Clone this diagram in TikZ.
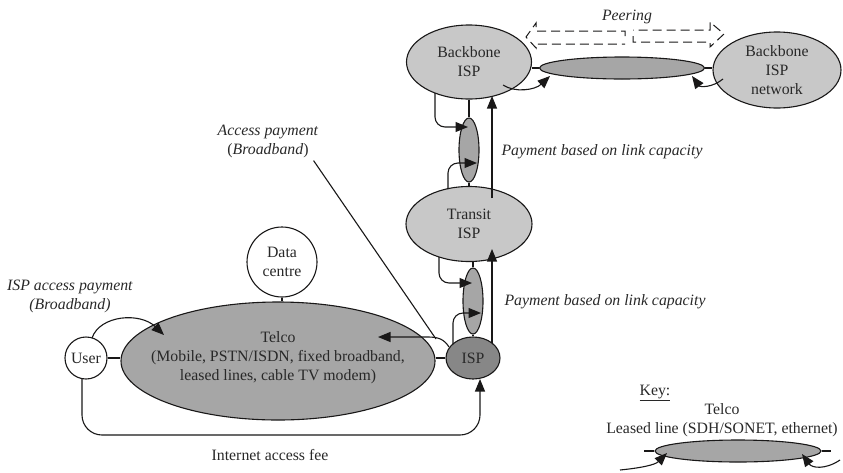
\documentclass[tikz,border=0pt]{standalone}
\usepackage{fontspec}
\setmainfont{Liberation Serif}
\usetikzlibrary{shapes.geometric,arrows.meta,calc}
\definecolor{lightfill}{RGB}{200,200,200}
\definecolor{midfill}{RGB}{166,166,166}
\definecolor{darkfill}{RGB}{135,135,135}
\definecolor{ink}{RGB}{25,24,24}
\definecolor{txt}{RGB}{40,40,40}

\begin{document}
\begin{tikzpicture}[x=1pt,y=-1pt,
  font=\fontsize{15.8}{19}\selectfont,
  every node/.style={text=txt},
  blob/.style={ellipse, draw=ink, line width=1.1pt, inner sep=0pt},
  ring/.style={circle, draw=ink, line width=1.1pt, fill=white, inner sep=0pt},
  lbl/.style={align=center, inner sep=0pt},
  conn/.style={draw=ink, line width=1.1pt},
  arr/.style={conn, -{Triangle[length=12.5pt,width=10pt]}},
  peer/.style={draw=ink, line width=1pt, dash pattern=on 9pt off 5pt}
]
\useasboundingbox (0,0) rectangle (843,472);

% ---------- network elements ----------
\node[blob, fill=lightfill, minimum width=125pt, minimum height=74pt] (bb) at (469,62) {};
\node[lbl] (bbT) at (bb.center) {Backbone\\ISP};
\node[blob, fill=lightfill, minimum width=128pt, minimum height=76pt] (net) at (777,70) {};
\node[lbl] (netT) at (net.center) {Backbone\\ISP\\network};
\node[blob, fill=midfill, minimum width=165pt, minimum height=22pt] (link1) at (622,68) {};
\node[blob, fill=midfill, minimum width=20pt, minimum height=64pt] (upl) at (469,150) {};
\node[blob, fill=lightfill, minimum width=126pt, minimum height=75pt] (transit) at (469,224) {};
\node[lbl] (transitT) at (transit.center) {Transit\\ISP};
\node[blob, fill=midfill, minimum width=20pt, minimum height=66pt] (lowl) at (473,301) {};
\node[blob, fill=darkfill, minimum width=54pt, minimum height=42pt] (isp) at (473,358) {};
\node[lbl] (ispT) at (isp.center) {ISP};
\node[blob, fill=midfill, minimum width=314pt, minimum height=118pt] (telco) at (278,361) {};
\node[lbl] (telcoT) at ($(telco.center)+(0,-3)$) {Telco\\(Mobile, PSTN/ISDN, fixed broadband,\\leased lines, cable TV modem)};
\node[ring, minimum size=70pt] (dc) at (282,262) {};
\node[lbl] (dcT) at (dc.center) {Data\\centre};
\node[ring, minimum size=42pt] (user) at (86,358) {};
\node[lbl] (userT) at (user.center) {User};

% ---------- short attachment lines ----------
\draw[conn] (link1.west) -- (bb.east |- link1.west);
\draw[conn] (link1.east) -- (net.west |- link1.east);
\draw[conn] (bb.south) -- (upl.north);
\draw[conn] (upl.south) -- (transit.north);
\draw[conn] (lowl.north) -- (lowl.north |- transit.south);
\draw[conn] (lowl.south) -- (isp.north);
\draw[conn] (dc.south) -- (dc.south |- telco.north);
\draw[conn] (user.east) -- (telco.west |- user.east);
\draw[conn] (isp.west) -- (telco.east |- isp.west);

% ---------- peering (dashed outline double arrow) ----------
\draw[peer] (625,36) -- (625,31) -- (536,31) -- (536,23) -- (526,37) -- (536,48) -- (536,44) -- (625,44);
\draw[peer] (633,36) -- (633,42) -- (710,42) -- (710,47) -- (724,34) -- (710,22) -- (710,30) -- (633,30);
\node (peerT) at (627,17) {\textit{Peering}};

% ---------- connections into the backbone link ----------
\draw[arr] ($(bb.center)+(34,23)$) .. controls ($(bb.center)+(46,31)$) and ($(link1.center)+(-87,22)$) .. ($(link1.center)+(-72,8)$);
\draw[arr] ($(net.center)+(-54,9)$) .. controls ($(net.center)+(-65,18)$) and ($(link1.center)+(78,19)$) .. ($(link1.center)+(70,8)$);

% ---------- transit links ----------
\draw[arr, rounded corners=10pt] ($(bb.center)+(-34,31)$) |- ($(upl.center)+(-1,-23)$);
\draw[arr, rounded corners=10pt] ($(transit.center)+(-21,-35)$) |- ($(upl.center)+(8,13)$);
\draw[arr, rounded corners=10pt] ($(transit.center)+(-30,33)$) |- ($(lowl.center)+(-1,-18)$);
\draw[arr, rounded corners=10pt] ($(isp.center)+(-20,-14)$) |- ($(lowl.center)+(8,12)$);
\draw[arr] ($(transit.center)+(23,-26)$) -- ($(bb.center)+(23,34)$);
\draw[arr] ($(isp.center)+(19,-15)$) -- ($(transit.center)+(23,25)$);
\node[anchor=west] (pay1) at (498,152) {\textit{Payment based on link capacity}};
\node[anchor=west] (pay2) at (501,302) {\textit{Payment based on link capacity}};

% ---------- access side ----------
\draw[arr] ($(isp.center)+(-24,-11)$) .. controls ($(isp.center)+(-29,-19)$) and ($(isp.center)+(-35,-21)$) .. ($(isp.center)+(-45,-21)$) -- ($(telco.center)+(100,-24)$);
\node[lbl] (acc) at (268,141) {\textit{Access payment}\\(\textit{Broadband})};
\draw[conn] ($(acc.south east)+(-5,3)$) -- ($(isp.center)+(-37,-19)$);

\draw[arr] ($(user.center)+(6,-20)$) .. controls ($(user.center)+(14,-43)$) and ($(telco.center)+(-138,-49)$) .. ($(telco.center)+(-114,-26)$);
\node[lbl] (ispacc) at (70,296) {\textit{ISP access payment}\\\textit{(Broadband)}};

\draw[arr, rounded corners=20pt] ($(user.center)+(-4,21)$) -- ($(user.center)+(-4,77)$) -| ($(isp.center)+(7,21)$);
\node (fee) at (270,455) {Internet access fee};

% ---------- key ----------
\node (keyT) at (655,393) {\underline{Key:}};
\node[lbl] (keyC) at (722,420) {Telco\\Leased line (SDH/SONET, ethernet)};
\node[blob, fill=midfill, minimum width=166pt, minimum height=22pt] (keyl) at (738,451) {};
\draw[conn] (keyl.west) -- ++(-10,0);
\draw[conn] (keyl.east) -- ++(9,0);
\draw[arr] ($(keyl.center)+(-118,19)$) .. controls ($(keyl.center)+(-98,17)$) and ($(keyl.center)+(-83,14)$) .. ($(keyl.center)+(-71,2)$);
\draw[arr] ($(keyl.center)+(102,9)$) .. controls ($(keyl.center)+(87,19)$) and ($(keyl.center)+(74,17)$) .. ($(keyl.center)+(64,3)$);
\end{tikzpicture}
\end{document}
